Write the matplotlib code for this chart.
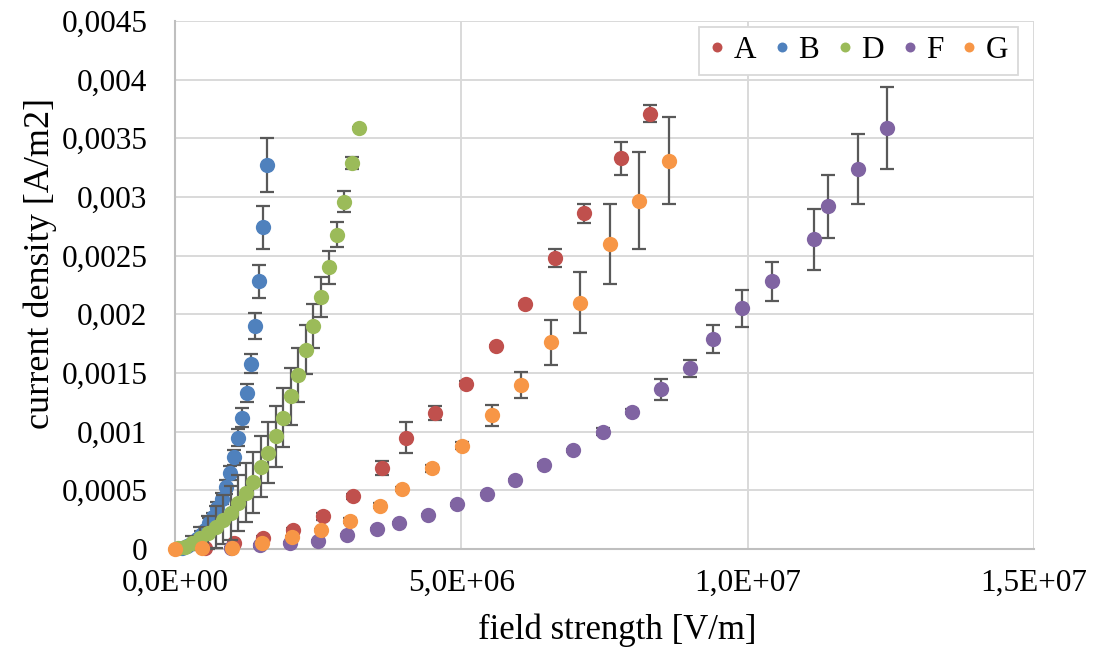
import matplotlib

matplotlib.use("Agg")
import matplotlib.pyplot as plt

plt.rcParams["font.family"] = ["Liberation Serif", "DejaVu Serif"]

# field strength in 1e6 V/m, current density in A/m2, error = +/- in A/m2
a_x = [0.52, 1.03, 1.54, 2.06, 2.58, 3.11, 3.61, 4.03, 4.54, 5.08, 5.60, 6.11, 6.63, 7.14, 7.78, 8.29]
a_y = [0.00001, 0.00005, 0.00009, 0.00016, 0.00028, 0.00045, 0.00069, 0.00095, 0.00116, 0.00141,
       0.00173, 0.00209, 0.00248, 0.00286, 0.00333, 0.00371]
a_err = [0.00001, 0.00001, 0.00002, 0.00002, 0.00003, 0.00002, 0.00006, 0.00013, 0.00006, 0.00002,
         0.00001, 0.00001, 0.00008, 0.00008, 0.00014, 0.00007]

b_x = [0.12, 0.21, 0.30, 0.38, 0.45, 0.52, 0.59, 0.66, 0.73, 0.82, 0.89, 0.96, 1.03, 1.10, 1.17,
       1.26, 1.33, 1.40, 1.47, 1.54, 1.61]
b_y = [0.00001, 0.000026, 0.00005, 0.000085, 0.00012, 0.00016, 0.00022, 0.00027, 0.00035, 0.00043,
       0.00053, 0.00065, 0.00078, 0.00095, 0.00112, 0.00133, 0.00158, 0.0019, 0.00228, 0.00274, 0.00327]
b_err = [0.00001, 0.00001, 0.00002, 0.00002, 0.00003, 0.00003, 0.00004, 0.00004, 0.00005, 0.00005,
         0.00006, 0.00006, 0.00006, 0.00007, 0.00008, 0.00008, 0.00008, 0.00011, 0.00014, 0.00018, 0.00023]

d_x = [0.05, 0.18, 0.30, 0.44, 0.58, 0.72, 0.84, 0.98, 1.10, 1.24, 1.36, 1.50, 1.62, 1.76, 1.89,
       2.02, 2.15, 2.29, 2.41, 2.55, 2.69, 2.83, 2.95, 3.09, 3.21]
d_y = [0.00001, 0.00002, 0.00005, 0.00009, 0.00014, 0.00019, 0.00025, 0.00031, 0.00039, 0.00048,
       0.00057, 0.0007, 0.00082, 0.00096, 0.00112, 0.0013, 0.00148, 0.0017, 0.0019, 0.00215,
       0.0024, 0.00268, 0.00296, 0.00329, 0.00359]
d_err = [0.00001, 0.00003, 0.00006, 0.0001, 0.00014, 0.00018, 0.00021, 0.00023, 0.00024, 0.00025,
         0.00026, 0.00026, 0.00026, 0.00026, 0.00025, 0.00024, 0.00023, 0.00021, 0.00019, 0.00017,
         0.00014, 0.00011, 0.00009, 0.00005, 0.00001]

f_x = [0.98, 1.48, 2.01, 2.50, 3.00, 3.53, 3.91, 4.42, 4.92, 5.45, 5.93, 6.44, 6.95, 7.47, 7.98,
       8.48, 8.99, 9.39, 9.90, 10.42, 11.15, 11.40, 11.92, 12.43]
f_y = [0.00001, 0.00003, 0.00005, 0.00007, 0.00012, 0.00017, 0.00022, 0.00029, 0.00038, 0.00047,
       0.00059, 0.00072, 0.00084, 0.001, 0.00117, 0.00136, 0.00154, 0.00179, 0.00205, 0.00228,
       0.00264, 0.00292, 0.00324, 0.00359]
f_err = [0.00001, 0.00001, 0.00001, 0.00001, 0.00001, 0.00001, 0.00001, 0.00001, 0.00001, 0.00001,
         0.00001, 0.00001, 0.00001, 0.00003, 0.00002, 0.00009, 0.00007, 0.00012, 0.00016, 0.00017,
         0.00026, 0.00027, 0.0003, 0.00035]

g_x = [0.0, 0.47, 1.00, 1.52, 2.04, 2.55, 3.05, 3.58, 3.96, 4.49, 5.01, 5.53, 6.04, 6.56, 7.07,
       7.59, 8.10, 8.62]
g_y = [0.0, 0.00001, 0.00001, 0.00005, 0.0001, 0.00016, 0.00024, 0.00037, 0.00051, 0.00069,
       0.00088, 0.00114, 0.0014, 0.00176, 0.0021, 0.0026, 0.00297, 0.00331]
g_err = [0.0, 0.0, 0.0, 0.00001, 0.00001, 0.00001, 0.00002, 0.00002, 0.00002, 0.00003,
         0.00003, 0.00009, 0.00011, 0.00019, 0.00026, 0.00034, 0.00041, 0.00037]

names = ["A", "B", "D", "F", "G"]
colors = ["#C0504D", "#4F81BD", "#9BBB59", "#8064A2", "#F79646"]

x_ticks = [0, 5e6, 1e7, 1.5e7]
x_ticklabels = ["0,0E+00", "5,0E+06", "1,0E+07", "1,5E+07"]
y_ticks = [0, 0.0005, 0.001, 0.0015, 0.002, 0.0025, 0.003, 0.0035, 0.004, 0.0045]
y_ticklabels = ["0", "0,0005", "0,001", "0,0015", "0,002", "0,0025", "0,003", "0,0035", "0,004", "0,0045"]

series = [(a_x, a_y, a_err), (b_x, b_y, b_err), (d_x, d_y, d_err), (f_x, f_y, f_err), (g_x, g_y, g_err)]

fig = plt.figure(figsize=(11.15, 6.5), dpi=100)
ax = fig.add_axes([0.157, 0.1554, 0.7704, 0.8123])

handles = []
for i, ((xs, ys, es), name, col) in enumerate(zip(series, names, colors)):
    # capsize is doubled internally, 5 gives ~14 px wide caps
    cont = ax.errorbar([v * 1e6 for v in xs], ys, yerr=es, fmt="o", ms=11, color=col,
                       ecolor="#595959", elinewidth=1.6, capsize=5, capthick=1.6, label=name)
    cont[0].set_markeredgewidth(0)
    cont[0].set_clip_on(False)
    cont[0].set_zorder(3.05 + i * 0.1)
    for art in list(cont[1]) + list(cont[2]):
        art.set_clip_on(False)
        art.set_zorder(3 + i * 0.1)
    handles.append(cont[0])

ax.set_xlim(0, 1.5e7)
ax.set_ylim(0, 0.0045)
ax.set_xticks(x_ticks)
ax.set_xticklabels(x_ticklabels)
ax.set_yticks(y_ticks)
ax.set_yticklabels(y_ticklabels)
ax.tick_params(axis="both", length=0, labelsize=22.5, colors="#000000")
ax.tick_params(axis="y", pad=20)
ax.tick_params(axis="x", pad=14)

ax.grid(True, color="#d9d9d9", linewidth=1.4)
ax.set_axisbelow(True)
for side in ["top", "right"]:
    ax.spines[side].set_visible(False)
for side in ["left", "bottom"]:
    ax.spines[side].set_color("#bfbfbf")
    ax.spines[side].set_linewidth(1.5)

ax.set_xlabel("field strength [V/m]", fontsize=25, va="center")
ax.xaxis.set_label_coords(0.515, -0.153)
ax.set_ylabel("current density [A/m2]", fontsize=26, va="center")
ax.yaxis.set_label_coords(-0.157, 0.54)

leg = ax.legend(handles=handles, labels=names, loc="upper right", bbox_to_anchor=(0.981, 0.989),
                ncol=5, fontsize=22.5, markerscale=0.65, handlelength=0.55, handletextpad=0.25,
                columnspacing=0.55, borderaxespad=0, frameon=True, fancybox=False, framealpha=1,
                borderpad=0.3)
leg.get_frame().set_edgecolor("#d9d9d9")
leg.get_frame().set_linewidth(1.3)
leg.set_zorder(10)

fig.savefig("out.png", dpi=100)
